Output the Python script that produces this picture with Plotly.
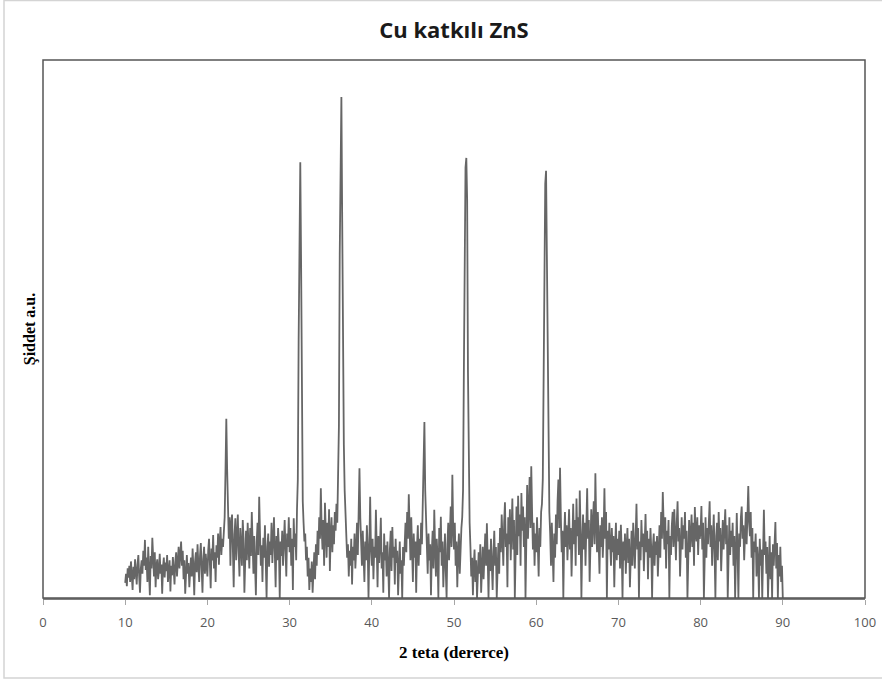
import numpy as np
import plotly.graph_objects as go

# XRD scan of Cu-doped ZnS, 2-theta 10..90 deg, step 0.1 deg (intensity in arbitrary units)
scan_start = 10.0
scan_step = 0.1

i_10_20 = [28, 45, 22, 55, 38, 60, 30, 68, 42, 15,
           58, 35, 72, 48, 25, 62, 80, 40, 10, 55,
           70, 45, 88, 60, 108, 52, 75, 30, 95, 48,
           5, 78, 55, 112, 65, 40, 85, 20, 60, 72,
           35, 50, 82, 45, 62, 8, 58, 75, 38, 66,
           50, 80, 30, 55, 70, 12, 60, 42, 76, 52,
           25, 68, 85, 40, 62, 95, 55, 78, 105, 60,
           88, 35, 70, 8, 58, 80, 45, 65, 20, 52,
           75, 40, 92, 55, 5, 68, 85, 48, 100, 62,
           30, 78, 102, 55, 10, 72, 95, 45, 82, 60]

i_20_30 = [40, 88, 110, 65, 18, 92, 70, 117, 55, 85,
           30, 98, 75, 120, 62, 105, 132, 80, 110, 95,
           128, 150, 235, 333, 240, 140, 110, 150, 60, 138,
           155, 90, 20, 118, 148, 70, 105, 155, 85, 40,
           130, 95, 60, 145, 110, 10, 88, 125, 70, 140,
           100, 55, 130, 78, 160, 95, 45, 115, 68, 5,
           105, 140, 80, 188, 120, 60, 98, 30, 112, 75,
           135, 88, 0, 95, 120, 58, 105, 80, 140, 65,
           100, 150, 85, 20, 115, 70, 130, 95, 0, 105,
           78, 125, 60, 110, 145, 88, 40, 120, 95, 150]

i_30_40 = [85, 130, 60, 110, 15, 148, 95, 120, 70, 165,
           220, 480, 760, 810, 620, 300, 180, 140, 105, 120,
           70, 95, 40, 75, 15, 55, 30, 68, 10, 48,
           85, 35, 100, 60, 125, 80, 150, 110, 204, 130,
           90, 145, 60, 177, 115, 75, 140, 95, 165, 50,
           120, 150, 85, 135, 100, 160, 125, 175, 140, 210,
           320, 640, 900, 931, 700, 330, 285, 200, 160, 110,
           75, 100, 40, 88, 60, 110, 25, 95, 70, 120,
           55, 90, 140, 80, 175, 241, 150, 100, 60, 125,
           85, 30, 105, 70, 135, 95, 0, 120, 188, 90]

i_40_50 = [60, 110, 35, 95, 75, 164, 90, 20, 115, 65,
           100, 149, 55, 85, 10, 120, 70, 98, 40, 105,
           60, 0, 90, 125, 50, 132, 75, 95, 25, 110,
           65, 88, 5, 80, 105, 45, 70, 0, 95, 60,
           115, 140, 85, 160, 110, 193, 130, 70, 150, 90,
           30, 120, 75, 105, 10, 95, 135, 60, 110, 80,
           140, 100, 165, 210, 327, 200, 150, 90, 45, 120,
           70, 100, 5, 85, 125, 55, 164, 95, 40, 110,
           75, 0, 130, 85, 151, 60, 105, 20, 90, 120,
           50, 0, 100, 140, 70, 115, 170, 95, 229, 130]

i_50_60 = [90, 140, 60, 105, 20, 85, 120, 45, 100, 130,
           150, 200, 420, 700, 800, 818, 740, 420, 200, 140,
           95, 40, 75, 5, 60, 90, 30, 70, 0, 55,
           85, 45, 100, 10, 65, 95, 35, 80, 120, 60,
           139, 75, 0, 90, 50, 110, 70, 15, 85, 125,
           60, 95, 0, 80, 102, 45, 130, 85, 155, 110,
           60, 140, 178, 95, 120, 20, 150, 100, 165, 70,
           130, 185, 90, 145, 0, 120, 170, 80, 190, 115,
           155, 60, 195, 125, 170, 95, 150, 0, 135, 210,
           110, 180, 225, 130, 245, 160, 90, 140, 60, 120]

i_60_70 = [85, 150, 110, 40, 130, 95, 160, 175, 220, 400,
           620, 770, 794, 640, 380, 220, 160, 120, 60, 140,
           90, 30, 120, 75, 155, 100, 180, 220, 130, 242,
           150, 85, 125, 0, 110, 160, 95, 135, 70, 115,
           165, 90, 130, 40, 120, 175, 100, 145, 60, 185,
           115, 150, 80, 200, 125, 0, 105, 155, 90, 140,
           60, 175, 204, 110, 145, 30, 120, 165, 95, 130,
           180, 100, 232, 140, 85, 160, 115, 45, 135, 95,
           150, 75, 120, 204, 110, 160, 0, 125, 90, 140,
           100, 60, 130, 85, 115, 20, 95, 140, 70, 110]

i_70_80 = [80, 125, 55, 136, 90, 0, 105, 70, 120, 45,
           95, 130, 65, 110, 20, 85, 125, 60, 140, 100,
           55, 115, 175, 90, 130, 0, 105, 70, 145, 95,
           120, 50, 100, 156, 85, 125, 35, 110, 75, 130,
           90, 0, 95, 120, 60, 105, 80, 115, 40, 100,
           135, 75, 160, 110, 197, 140, 90, 150, 55, 125,
           100, 145, 0, 115, 80, 135, 160, 95, 165, 120,
           70, 140, 180, 105, 130, 40, 115, 150, 90, 135,
           110, 160, 75, 125, 0, 100, 145, 85, 130, 155,
           95, 140, 60, 169, 120, 105, 150, 80, 135, 110]

i_80_90 = [125, 171, 90, 140, 0, 110, 150, 75, 130, 100,
           145, 180, 95, 135, 60, 120, 155, 85, 0, 115,
           140, 70, 160, 105, 130, 50, 115, 145, 90, 125,
           165, 100, 135, 0, 110, 150, 80, 125, 95, 140,
           60, 115, 0, 130, 158, 85, 0, 120, 95, 150,
           170, 110, 135, 70, 125, 160, 100, 185, 208, 140,
           115, 160, 75, 130, 0, 105, 85, 120, 40, 95,
           70, 0, 110, 60, 90, 0, 125, 164, 80, 105,
           45, 95, 0, 70, 115, 35, 85, 0, 100, 60,
           90, 141, 55, 102, 0, 80, 40, 95, 30, 60]

i_90 = [0]

intensity = i_10_20 + i_20_30 + i_30_40 + i_40_50 + i_50_60 + i_60_70 + i_70_80 + i_80_90 + i_90
two_theta = np.round(scan_start + scan_step * np.arange(len(intensity)), 1)

x_ticks = [0, 10, 20, 30, 40, 50, 60, 70, 80, 90, 100]

fig = go.Figure()
fig.add_trace(go.Scatter(
    x=two_theta, y=intensity, mode="lines",
    line=dict(color="#666666", width=1.8),
    showlegend=False, hoverinfo="skip",
))

# plot-area geometry in pixels
W, H = 882, 684
L, R, T, B = 43, 17, 60, 86
pw, ph = W - L - R, H - T - B

def px_x(px):
    return (px - L) / pw

def px_y(py):
    return (H - B - py) / ph

# light outer chart-area border
fig.add_shape(type="rect", xref="paper", yref="paper",
              x0=px_x(4), x1=px_x(900), y0=px_y(678), y1=px_y(0.5),
              line=dict(color="#d4d4d4", width=1.5), fillcolor="rgba(0,0,0,0)", layer="below")
# dark plot-area frame
fig.add_shape(type="rect", xref="paper", yref="paper",
              x0=0, x1=1, y0=0, y1=1,
              line=dict(color="#555555", width=1.5), fillcolor="rgba(0,0,0,0)")

fig.update_layout(
    width=W, height=H,
    margin=dict(l=L, r=R, t=T, b=B, pad=0, autoexpand=False),
    paper_bgcolor="white", plot_bgcolor="white",
    title=dict(text="<b>Cu katkılı ZnS</b>", x=0.5, xref="paper", xanchor="center",
               y=1 - 30 / H, yanchor="middle",
               font=dict(family="Open Sans", size=22, color="#1a1a1a")),
    xaxis=dict(range=[0, 100], tickvals=x_ticks, ticks="outside", ticklen=5,
               tickcolor="#a6a6a6", tickwidth=1, ticklabelstandoff=7,
               showline=True, linecolor="#7f7f7f", linewidth=1.5,
               showgrid=False, zeroline=False, automargin=False,
               tickfont=dict(family="Open Sans", size=13, color="#595959"),
               title=dict(text="<b>2 teta (dererce)</b>", standoff=16,
                          font=dict(family="Liberation Serif", size=17, color="black"))),
    yaxis=dict(range=[0, 1000], showticklabels=False, ticks="",
               showgrid=False, zeroline=False, showline=False, automargin=False,
               title=dict(text="<b>Şiddet a.u.</b>", standoff=2,
                          font=dict(family="Liberation Serif", size=16, color="black"))),
)

fig.write_html("out.html")
